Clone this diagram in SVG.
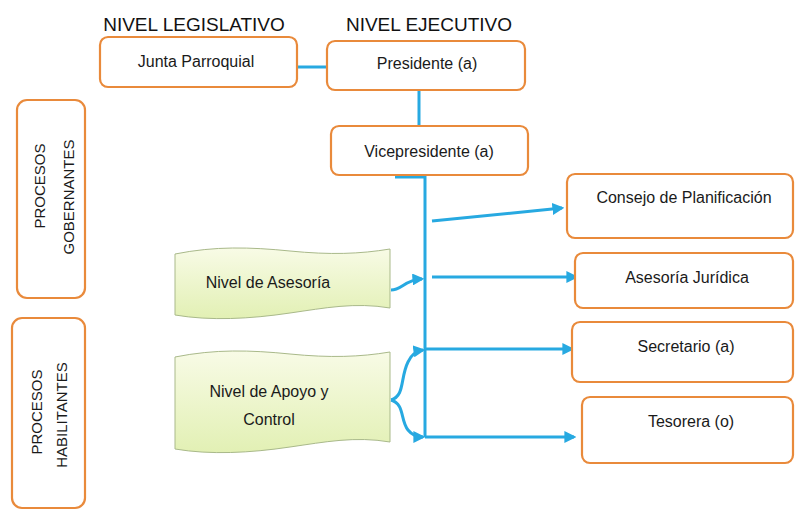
<svg xmlns="http://www.w3.org/2000/svg" width="795" height="513" viewBox="0 0 795 513">
<style>
.box{fill:#fff;stroke:#E98A3B;stroke-width:2.2}
.wave{fill:url(#g);stroke:#A9B98A;stroke-width:1}
.t{font-family:"Liberation Sans",Arial,sans-serif;font-size:16px;fill:#1a1a1a;text-anchor:middle}
.v{font-size:15px}
.h{font-family:"Liberation Sans",Arial,sans-serif;font-size:19px;fill:#111;text-anchor:middle}
.c{fill:none;stroke:#27A9E1;stroke-width:3}
</style>
<defs>
<linearGradient id="g" x1="0" y1="0" x2="0" y2="1">
<stop offset="0" stop-color="#F8FBE6"/>
<stop offset="1" stop-color="#E2F0B4"/>
</linearGradient>
<marker id="a" viewBox="0 0 10 10" refX="8" refY="5" markerWidth="4" markerHeight="4" orient="auto">
<path d="M0,0 L10,5 L0,10 Z" fill="#27A9E1"/>
</marker>
</defs>
<rect width="795" height="513" fill="#fff"/>

<text class="h" x="194" y="31">NIVEL LEGISLATIVO</text>
<text class="h" x="429" y="31">NIVEL EJECUTIVO</text>

<g id="connectors">
<line class="c" x1="297" y1="67" x2="328" y2="67"/>
<line class="c" x1="419" y1="90" x2="419" y2="126"/>
<polyline class="c" points="395,177 425,177 425,437"/>
<line class="c" x1="432" y1="221" x2="562" y2="208" marker-end="url(#a)"/>
<line class="c" x1="432" y1="277" x2="576" y2="277" marker-end="url(#a)"/>
<line class="c" x1="425" y1="349" x2="572" y2="349" marker-end="url(#a)"/>
<line class="c" x1="425" y1="437" x2="574" y2="437" marker-end="url(#a)"/>
<path class="c" d="M391,290 C402,290 404,280 422,279" marker-end="url(#a)" stroke-width="2.5"/>
<path class="c" d="M391,400 C405,396 400,378 408,362 C412,354 416,351 423,350" marker-end="url(#a)" stroke-width="2.2"/>
<path class="c" d="M391,400 C405,404 400,420 408,430 C412,435 416,437 423,437" marker-end="url(#a)" stroke-width="2.2"/>
</g>

<g id="junta">
<rect class="box" x="100" y="37" width="197" height="50" rx="8"/>
<text class="t" x="196" y="67">Junta Parroquial</text>
</g>
<g id="presidente">
<rect class="box" x="327" y="41" width="198" height="49" rx="8"/>
<text class="t" x="427" y="69">Presidente (a)</text>
</g>
<g id="vicepresidente">
<rect class="box" x="331" y="126" width="197" height="49" rx="8"/>
<text class="t" x="429" y="157">Vicepresidente (a)</text>
</g>
<g id="consejo">
<rect class="box" x="567" y="174" width="226" height="64" rx="8"/>
<text class="t" x="684" y="203">Consejo de Planificación</text>
</g>
<g id="asesoria-juridica">
<rect class="box" x="575" y="253" width="218" height="55" rx="8"/>
<text class="t" x="687" y="283">Asesoría Jurídica</text>
</g>
<g id="secretario">
<rect class="box" x="572" y="322" width="221" height="60" rx="8"/>
<text class="t" x="686" y="352">Secretario (a)</text>
</g>
<g id="tesorera">
<rect class="box" x="582" y="397" width="211" height="66" rx="8"/>
<text class="t" x="691" y="427">Tesorera (o)</text>
</g>

<g id="nivel-asesoria">
<path class="wave" d="M175,254 C215,246 250,247 290,251 C330,255 360,254 390,249 L390,308 C355,302 325,308 290,313 C250,319 210,321 175,315 Z"/>
<text class="t" x="268" y="288">Nivel de Asesoría</text>
</g>
<g id="nivel-apoyo">
<path class="wave" d="M175,357 C215,349 250,350 290,354 C330,358 360,357 390,352 L390,442 C355,436 325,442 290,447 C250,453 210,455 175,449 Z"/>
<text class="t" x="269" y="397">Nivel de Apoyo y</text>
<text class="t" x="269" y="425">Control</text>
</g>

<g id="procesos-gobernantes">
<rect class="box" x="17" y="100" width="68" height="198" rx="10"/>
<text class="t v" transform="translate(45,186) rotate(-90)">PROCESOS</text>
<text class="t v" transform="translate(74,197) rotate(-90)">GOBERNANTES</text>
</g>
<g id="procesos-habilitantes">
<rect class="box" x="12" y="318" width="73" height="190" rx="10"/>
<text class="t v" transform="translate(42,412) rotate(-90)">PROCESOS</text>
<text class="t v" transform="translate(67,415) rotate(-90)">HABILITANTES</text>
</g>
</svg>
